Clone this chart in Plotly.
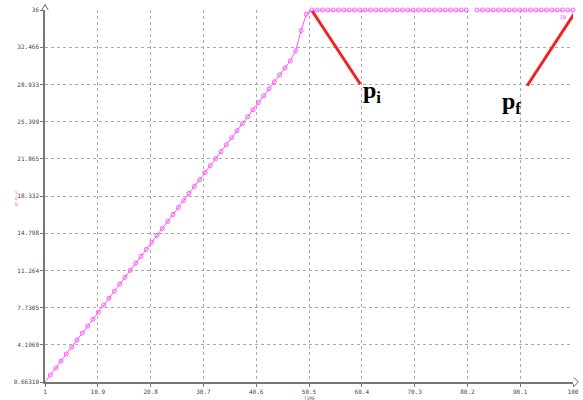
import plotly.graph_objects as go

time = list(range(1, 101))
von = [0.66, 1.33, 1.99, 2.65, 3.32, 3.98, 4.64, 5.30, 5.97, 6.63,
       7.29, 7.96, 8.62, 9.28, 9.95, 10.61, 11.27, 11.94, 12.60, 13.26,
       13.93, 14.59, 15.25, 15.91, 16.58, 17.24, 17.90, 18.57, 19.23, 19.89,
       20.56, 21.22, 21.88, 22.55, 23.21, 23.87, 24.54, 25.20, 25.86, 26.52,
       27.19, 27.85, 28.51, 29.18, 29.84, 30.50, 31.17, 32.13, 34.03, 35.59] + \
      [36.0] * 30 + [None] + [36.0] * 19

x_tickvals = [1, 10.9, 20.8, 30.7, 40.6, 50.5, 60.4, 70.3, 80.2, 90.1, 100]
x_ticktext = ["1", "10.9", "20.8", "30.7", "40.6", "50.5", "60.4", "70.3", "80.2", "90.1", "100"]
y_tickvals = [0.6631, 4.1969, 7.7305, 11.264, 14.798, 18.332, 21.865, 25.399, 28.933, 32.466, 36]
y_ticktext = ["0.66310", "4.1969", "7.7305", "11.264", "14.798", "18.332", "21.865", "25.399", "28.933", "32.466", "36"]

# annotation lines (time, value)
pi_line = [(51.1, 35.9), (60.1, 28.97)]
pf_line = [(100.4, 35.8), (91.4, 28.8)]

mag = "#ff55ff"
fig = go.Figure()
fig.add_trace(go.Scatter(
    x=time, y=von, mode="lines+markers", connectgaps=False,
    line=dict(color=mag, width=1),
    marker=dict(symbol="circle-open", size=4, color=mag, line=dict(width=1, color=mag)),
    showlegend=False, cliponaxis=False,
))

for (x0, y0), (x1, y1) in [pi_line, pf_line]:
    fig.add_shape(type="line", xref="x", yref="y", x0=x0, y0=y0, x1=x1, y1=y1,
                  line=dict(color="#ee2222", width=3))

# axis arrowheads (paper coords)
fig.add_shape(type="path", xref="paper", yref="paper",
              path="M -0.006 1.0 L 0 1.015 L 0.006 1.0", line=dict(color="#666", width=1))
fig.add_shape(type="path", xref="paper", yref="paper",
              path="M 1.002 0.012 L 1.01 0 L 1.002 -0.012", line=dict(color="#666", width=1))

axfont = dict(family="DejaVu Sans Mono", size=6, color="#444")
fig.update_layout(
    width=583, height=400,
    margin=dict(l=45, r=10, t=10, b=18, autoexpand=False),
    paper_bgcolor="white", plot_bgcolor="white",
    font=axfont,
    xaxis=dict(range=[1, 100], tickvals=x_tickvals, ticktext=x_ticktext, automargin=False,
               showgrid=True, gridcolor="#aaaaaa", griddash="dot", gridwidth=1,
               showline=True, linecolor="#777", linewidth=1.5,
               ticks="outside", ticklen=3, tickcolor="#777", zeroline=False,
               tickfont=axfont),
    yaxis=dict(range=[0.6631, 36], tickvals=y_tickvals, ticktext=y_ticktext, automargin=False,
               showgrid=True, gridcolor="#aaaaaa", griddash="dot", gridwidth=1,
               showline=True, linecolor="#777", linewidth=1.5,
               ticks="outside", ticklen=3, tickcolor="#777", zeroline=False,
               tickfont=axfont),
    annotations=[
        dict(x=60.2, y=29.8, xref="x", yref="y", text="<b>p</b><sub><b>i</b></sub>",
             showarrow=False, xanchor="left", yanchor="top",
             font=dict(family="Liberation Serif", size=24, color="black")),
        dict(x=86.3, y=28.8, xref="x", yref="y", text="<b>p</b><sub><b>f</b></sub>",
             showarrow=False, xanchor="left", yanchor="top",
             font=dict(family="Liberation Serif", size=24, color="black")),
        dict(x=0.5, y=0, xref="paper", yref="paper", yshift=-16.5, text="TIME",
             showarrow=False, yanchor="middle",
             font=dict(family="DejaVu Sans Mono", size=4.5, color="#555")),
        dict(x=0, y=0.5, xref="paper", yref="paper", xshift=-25, yshift=-2,
             xanchor="right", text="V<br>O<br>N", showarrow=False,
             font=dict(family="DejaVu Sans Mono", size=4.5, color=mag)),
        dict(x=0.981, y=0.981, xref="paper", yref="paper", text="IN",
             showarrow=False, xanchor="center", yanchor="middle",
             font=dict(family="DejaVu Sans Mono", size=5, color=mag)),
    ],
)

fig.write_html("out.html", config={"displayModeBar": False},
               post_script="document.body.style.margin='0';")
